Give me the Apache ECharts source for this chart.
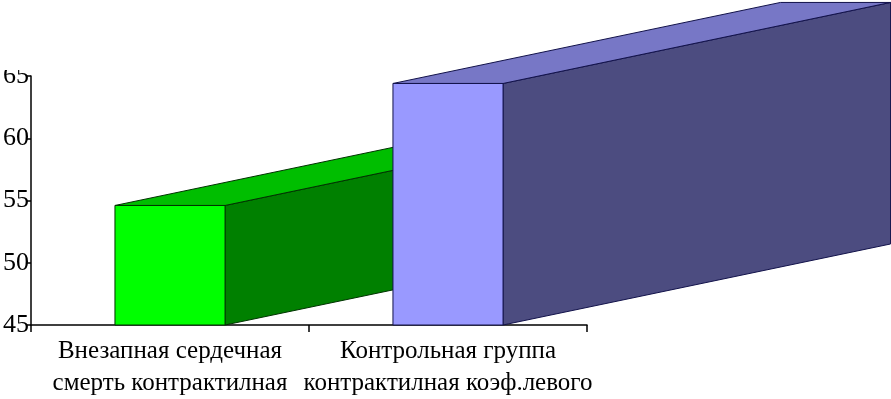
<!DOCTYPE html>
<html><head><meta charset="utf-8">
<script src="https://cdn.jsdelivr.net/npm/echarts@6/dist/echarts.min.js"></script>
<style>html,body{margin:0;padding:0;background:#fff}#c{width:891px;height:399px}</style>
</head><body><div id="c"></div>
<script>
var categories = ['Внезапная сердечная\nсмерть контрактилная', 'Контрольная группа\nконтрактилная коэф.левого'];
var values = [54.6, 64.4];
var yTicks = [45, 50, 55, 60, 65];

var faceColors = [
  {front: '#00FF00', top: '#00BE00', side: '#008000', stroke: '#003300'},
  {front: '#9999FF', top: '#7777C6', side: '#4C4C80', stroke: '#12124A'}
];
var BAR_RATIO = 0.396, DEPTH_X = 3.52, DEPTH_Y = 0.736;

var chart = echarts.init(document.getElementById('c'));
chart.setOption({
  animation: false,
  backgroundColor: '#fff',
  grid: {left: 31, right: 304, top: 76, bottom: 74},
  xAxis: {
    type: 'category', data: categories, boundaryGap: true,
    axisLine: {lineStyle: {color: '#000', width: 1.5}},
    axisTick: {show: true, interval: 0, length: 7, lineStyle: {color: '#000', width: 1.5}},
    axisLabel: {interval: 0, color: '#000', fontFamily: 'Liberation Serif', fontSize: 25, lineHeight: 32, margin: 10}
  },
  yAxis: {
    type: 'value', min: yTicks[0], max: yTicks[yTicks.length - 1], interval: 5,
    splitLine: {show: false},
    axisLine: {show: true, lineStyle: {color: '#000', width: 1.5}},
    axisTick: {show: true, length: 5, lineStyle: {color: '#000', width: 1.5}},
    axisLabel: {color: '#000', fontFamily: 'Liberation Serif', fontSize: 26, margin: 2}
  },
  series: [{
    type: 'custom',
    data: values.map(function (v, i) { return [i, v]; }),
    renderItem: function (params, api) {
      var i = api.value(0), v = api.value(1);
      var top = api.coord([i, v]);
      var bot = api.coord([i, yTicks[0]]);
      var w = api.size([1, 0])[0] * BAR_RATIO;
      var x0 = top[0] - w / 2, x1 = top[0] + w / 2, yt = top[1], yb = bot[1];
      var dx = w * DEPTH_X, dy = w * DEPTH_Y;
      var c = faceColors[params.dataIndex];
      var ls = {stroke: c.stroke, lineWidth: 1};
      return {
        type: 'group',
        children: [
          {type: 'polygon', shape: {points: [[x1, yt], [x1 + dx, yt - dy], [x1 + dx, yb - dy], [x1, yb]]},
           style: Object.assign({fill: c.side}, ls)},
          {type: 'polygon', shape: {points: [[x0, yt], [x0 + dx, yt - dy], [x1 + dx, yt - dy], [x1, yt]]},
           style: Object.assign({fill: c.top}, ls)},
          {type: 'rect', shape: {x: x0, y: yt, width: w, height: yb - yt},
           style: Object.assign({fill: c.front}, ls)}
        ]
      };
    }
  }],
  graphic: [{type: 'rect', left: 0, top: 0, shape: {width: 29, height: 70}, style: {fill: '#fff'}, z: 100}]
});
</script></body></html>
